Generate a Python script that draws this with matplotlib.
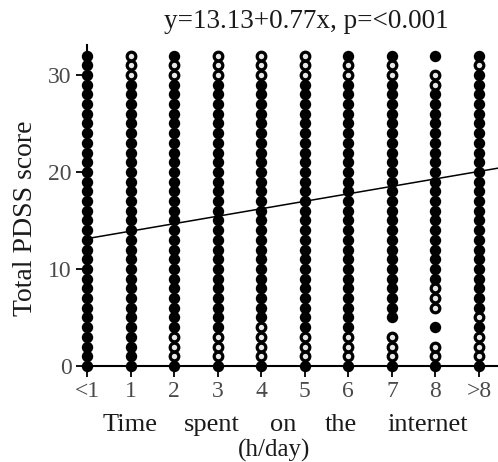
import numpy as np
import matplotlib
matplotlib.use("Agg")
import matplotlib.pyplot as plt

plt.rcParams['font.family'] = ['Liberation Serif', 'DejaVu Serif']

# categories on the x axis (hours per day online)
categories = ["<1", "1", "2", "3", "4", "5", "6", "7", "8", ">8"]

# one string per category, character i = PDSS score i (0..32)
# F = several subjects (filled dot), o = single subject (open dot), . = none
score_marks = [
    "FFFFFFFFFF" "FFFFFFFFFF" "FFFFFFFFFF" "FFF",
    "FFFFFFFFFF" "FFFFFFFFFF" "FFFFFFFFFF" "ooo",
    "Fooo" "FFFFFFFFFF" "FFFFFFFFFF" "FFFFFF" "ooF",
    "Fooo" "FFFFFFFFFF" "FFFFFFFFFF" "FFFFFF" "ooo",
    "Foooo" "FFFFFFFFFF" "FFFFFFFFFF" "FFFFF" "ooo",
    "Fooo" "FFFFFFFFFF" "FFFFFFFFFF" "FFFFFF" "ooo",
    "Fooo" "FFFFFFFFFF" "FFFFFFFFFF" "FFFFFF" "ooF",
    "Fooo." "FFFFFFFFFF" "FFFFFFFFFF" "FFFFF" "ooF",
    "Foo.F.ooo" "FFFFFFFFFF" "FFFFFFFFFF" "oo.F",
    "FoooFo" "FFFFFFFFFF" "FFFFFFFFFF" "FFFFF" "oF",
]

intercept = 13.13
slope = 0.77
fit_label = "y=13.13+0.77x, p=<0.001"


def main():
    fig = plt.figure(figsize=(4.98, 4.62), dpi=100)
    ax = fig.add_axes([87/498, 96/462, 1 - 87/498, 321/462])

    for xi, marks in enumerate(score_marks):
        assert len(marks) == 33
        filled = [s for s, m in enumerate(marks) if m == "F"]
        hollow = [s for s, m in enumerate(marks) if m == "o"]
        ax.plot([xi]*len(filled), filled, 'o', ms=7, mfc='black',
                mec='black', mew=1.2, clip_on=False, zorder=3)
        ax.plot([xi]*len(hollow), hollow, 'o', ms=6.2, mfc='#e8e8e8',
                mec='black', mew=2.3, clip_on=False, zorder=3)

    xs = np.array([0, 9.5])
    ax.plot(xs, intercept + slope*xs, color='black', lw=1.1, zorder=4)

    ax.set_xlim(0, 9.435)
    ax.set_ylim(0, 33.09)
    ax.set_xticks(range(len(categories)))
    ax.set_xticklabels(categories)
    ax.set_yticks([0, 10, 20, 30])
    ax.tick_params(direction='out', length=8, width=1.3, labelsize=17,
                   labelcolor='#4a4a4a', pad=3)
    for side in ['top', 'right']:
        ax.spines[side].set_visible(False)
    for side in ['left', 'bottom']:
        ax.spines[side].set_linewidth(1.5)

    fig.text(306/498, 1 - 22/462, fit_label, ha='center', va='center',
             fontsize=19.5, color='#1a1a1a')
    fig.text(25/498, 1 - 218/462, "Total PDSS score", rotation=90,
             ha='center', va='center', fontsize=20, color='#1a1a1a')

    words = ["Time", "spent", "on", "the", "internet"]
    centers = [130, 212, 283, 341, 428]
    for w, cx in zip(words, centers):
        fig.text(cx/498, 1 - 431/462, w, ha='center', va='baseline',
                 fontsize=19, color='#1a1a1a')
    fig.text(274/498, 1 - 439/462, "(h/day)", ha='center', va='top',
             fontsize=18, color='#1a1a1a')

    fig.savefig("out.png", dpi=100)


if __name__ == '__main__':
    main()
